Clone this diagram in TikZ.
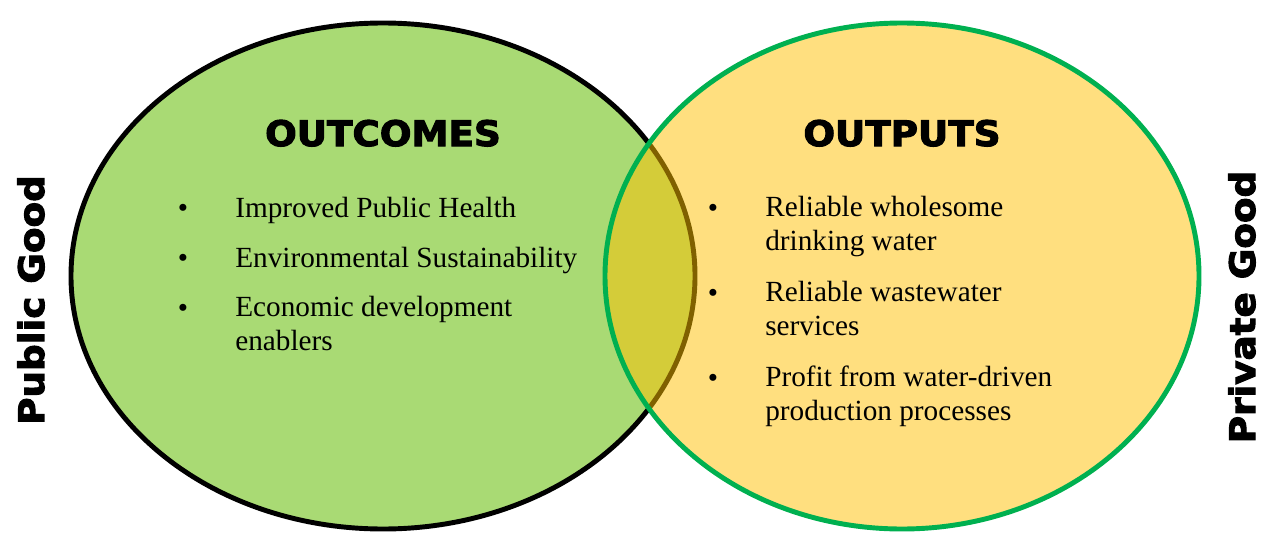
\documentclass[tikz,border=0pt]{standalone}
\usepackage{fontspec}
\setmainfont{Liberation Serif}
\newfontfamily\heavyfont[FakeBold=3,FakeStretch=1.06]{DejaVu Sans}
\usepackage{tikz}
\usetikzlibrary{positioning}

\definecolor{leafgreen}{RGB}{169,218,116}
\definecolor{amber}{RGB}{255,192,0}
\definecolor{rimgreen}{RGB}{0,176,80}

\begin{document}
\begin{tikzpicture}
  [
    x=0.025cm,
    y=-0.025cm,
    set/.style={
      line width=3.5pt
    },
    heading/.style={
      font=\heavyfont\bfseries\fontsize{25}{30}\selectfont,
      inner sep=0pt,
      anchor=base
    },
    side/.style={
      heading,
      rotate=90
    },
    item/.style={
      font=\fontsize{20.8}{23.8}\selectfont,
      align=left,
      inner sep=0pt,
      anchor=base west
    },
    dot/.style={
      item,
      anchor=base
    }
  ]
    \useasboundingbox (0,0) rectangle (1261,532);
    % the two sets
    \draw [set,fill=leafgreen] (383,276) ellipse [x radius=312,y radius=253];
    \draw [set,draw=rimgreen,fill=amber,fill opacity=.5] (902,276) ellipse [x radius=297,y radius=253];
    % headings
    \node [heading] (outcomes) at (383,146) {OUTCOMES};
    \node [heading] (outputs) at (902,146) {OUTPUTS};
    % left list (two-line items sit on their last baseline)
    \node [dot] (dotA) at (183,217) {\textbullet};
    \node [item] (health) at (235,217) {Improved Public Health};
    \node [dot] (dotB) at (183,267) {\textbullet};
    \node [item] (environment) at (235,267) {Environmental Sustainability};
    \node [dot] (dotC) at (183,317) {\textbullet};
    \node [item] (economy) at (235,350) {Economic development\\enablers};
    % right list
    \node [dot] (dotD) at (713,217) {\textbullet};
    \node [item] (drinking) at (765,250) {Reliable wholesome\\drinking water};
    \node [dot] (dotE) at (713,302) {\textbullet};
    \node [item] (wastewater) at (765,335) {Reliable wastewater\\services};
    \node [dot] (dotF) at (713,387) {\textbullet};
    \node [item] (profit) at (765,420) {Profit from water-driven\\production processes};
    % side labels
    \node [side] (public) at (44,300) {Public Good};
    \node [side] (private) at (1255,307) {Private Good};
  \end{tikzpicture}
\end{document}
